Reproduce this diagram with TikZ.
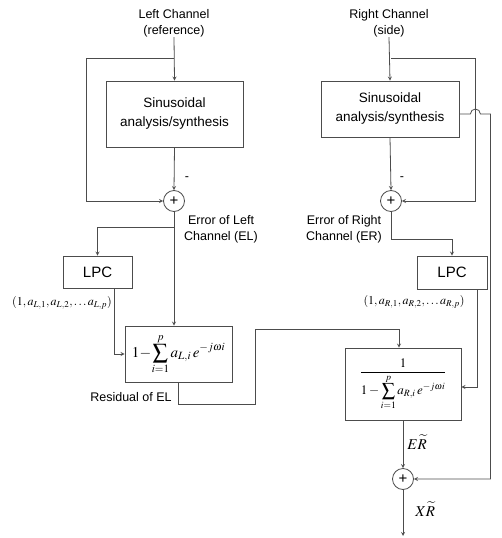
\documentclass[tikz,border=0pt]{standalone}
\usepackage{mathptmx}
\usepackage{fontspec}
\setmainfont{Liberation Sans}
\usepackage{amsmath}
\usetikzlibrary{positioning}

\begin{document}
\begin{tikzpicture}[
    x=1pt, y=-1pt,
    line width=0.8pt, draw=black!70,
    block/.style={rectangle, draw=black!70, line width=0.8pt, inner sep=0pt, align=center, font=\fontsize{13.5}{19}\selectfont},
    adder/.style={circle, draw=black!70, line width=0.8pt, minimum size=21pt, inner sep=0pt, font=\fontsize{15}{15}\selectfont},
    label/.style={align=center, inner sep=0pt, font=\fontsize{12.5}{16}\selectfont},
    arrow/.style={->, >=stealth, draw=black!70, line width=0.8pt}
]
    \useasboundingbox (0,0) rectangle (501,538);

    % Inputs
    \node[label] (inL) at (174,23) {Left Channel\\(reference)};
    \node[label] (inR) at (389,23) {Right Channel\\(side)};

    % Blocks
    \node[block, minimum width=137pt, minimum height=66pt] (synL) at (174.5,114) {Sinusoidal\\analysis/synthesis};
    \node[block, minimum width=138pt, minimum height=56pt] (synR) at (390,109) {Sinusoidal\\analysis/synthesis};
    \node[adder] (sumL) at (174,201) {+};
    \node[adder] (sumR) at (391,201) {+};
    \node[block, minimum width=69pt, minimum height=32pt, font=\fontsize{15}{15}\selectfont] (lpcL) at (97.5,272) {LPC};
    \node[block, minimum width=70pt, minimum height=33pt, font=\fontsize{15}{15}\selectfont] (lpcR) at (452,272.5) {LPC};
    \node[block, minimum width=107pt, minimum height=56pt, font=\fontsize{15}{17}\selectfont] (filtL) at (178.5,354)
        {$\displaystyle 1\!-\!\sum_{i=1}^{p} a_{L,i}\, e^{-j\omega i}$};
    \node[block, minimum width=116pt, minimum height=72pt, font=\fontsize{13}{15}\selectfont] (filtR) at (403,384)
        {$\displaystyle \frac{1}{\displaystyle 1-\sum_{i=1}^{p} a_{R,i}\, e^{-j\omega i}}$};
    \node[adder] (sumO) at (403,479) {+};

    % Labels
    \node[label] (minusL) at (187,179) {-};
    \node[label] (minusR) at (402,179) {-};
    \node[label] (errL) at (221,229) {Error of Left\\Channel (EL)};
    \node[label] (errR) at (344,229) {Error of Right\\Channel (ER)};
    \node[label, font=\fontsize{12}{14}\selectfont] (coefL) at (62,303) {$(1,a_{L,1},a_{L,2},\ldots a_{L,p})$};
    \node[label, font=\fontsize{12}{14}\selectfont] (coefR) at (414,302) {$(1,a_{R,1},a_{R,2},\ldots a_{R,p})$};
    \node[label, anchor=east] (resL) at (172,397) {Residual of EL};
    \node[label, anchor=west, font=\fontsize{15}{15}\selectfont] (erR) at (407,442) {$E\widetilde{R}$};
    \node[label, anchor=west, font=\fontsize{15}{15}\selectfont] (xrR) at (415,509) {$X\widetilde{R}$};

    % Corner points
    \coordinate (brL) at (174,58);
    \coordinate (kL) at (86,58);
    \coordinate (eL) at (174,227);
    \coordinate (brR) at (391,58);
    \coordinate (kR) at (475,201);
    \coordinate (eR) at (391,239);
    \coordinate (rs1) at (255,404);
    \coordinate (rs2) at (399,329);
    \coordinate (outR) at (403,536);

    % Arrows
    \draw[arrow] (inL.south) -- (synL.north);
    \draw[arrow] (brL) -- (kL) |- (sumL.west);
    \draw[arrow] (synL.south) -- (sumL.north);
    \draw[arrow] (sumL.south) -- (sumL.south |- filtL.north);
    \draw[arrow] (eL) -| (lpcL.north);
    \draw[arrow] ([xshift=17pt]lpcL.south) |- (filtL.west);
    \draw[arrow] (filtL.south) |- (rs1) |- (rs2) -- (rs2 |- filtR.north);

    \draw[arrow] (inR.south) -- (synR.north);
    \draw[arrow] (brR) -| (kR) -- (sumR.east);
    \draw[arrow] (synR.south) -- (sumR.north);
    \draw[arrow] (sumR.south) -- (eR) -| (lpcR.north);
    \draw[arrow] ([xshift=25pt]lpcR.south) |- ([yshift=-3pt]filtR.east);
    \draw[arrow] ([yshift=-5pt]synR.east) -- ++(11,0) arc[start angle=180, end angle=0, radius=5pt] -- ++(10,0) |- (sumO.east);
    \draw[arrow] (filtR.south) -- (sumO.north);
    \draw[arrow] (sumO.south) -- (outR);
\end{tikzpicture}
\end{document}
